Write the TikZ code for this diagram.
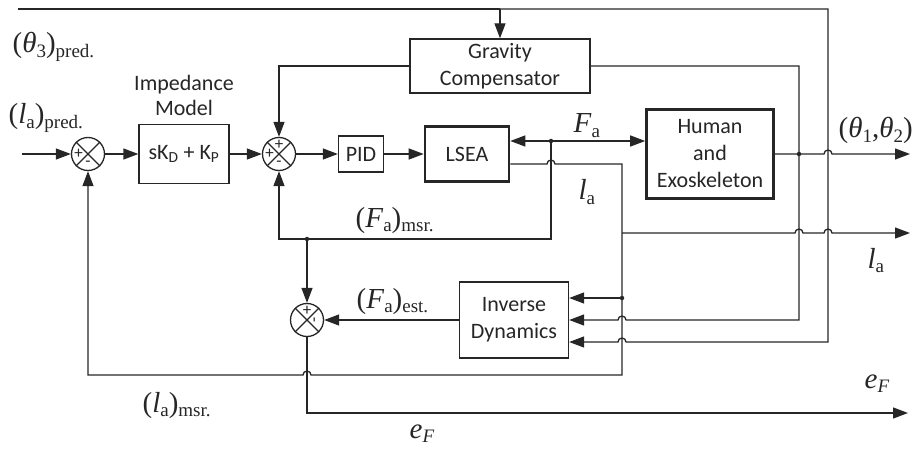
\documentclass[tikz,border=0pt]{standalone}
\usepackage{fontspec}
\setmainfont{Carlito}
\newfontfamily\tms{Liberation Serif}
\usetikzlibrary{arrows.meta}
\definecolor{ink}{HTML}{262626}
\newcommand\lsb[1]{\raisebox{-0.35ex}{\fontsize{19}{19}\selectfont #1}}
\newcommand\mlab[1]{{\tms\fontsize{29}{29}\selectfont #1}}
\begin{document}
\begin{tikzpicture}[x=1pt,y=-1pt,line width=1.3pt,color=ink,
  box/.style={draw, line width=1.3pt, inner sep=0pt, align=center, font=\fontsize{22}{27}\selectfont},
  tbox/.style={box, line width=2.6pt},
  sumc/.style={draw, circle, minimum size=33pt, inner sep=0pt, line width=1.3pt},
  sign/.style={inner sep=0pt, font=\fontsize{17}{17}\selectfont},
  lbl/.style={inner sep=0pt},
  arr/.style={-{Triangle[length=15pt,width=11pt]}},
  arrb/.style={{Triangle[length=15pt,width=11pt]}-{Triangle[length=15pt,width=11pt]}},
  dot/.style={fill, circle, inner sep=0pt, minimum size=4.5pt}]
\useasboundingbox (0,0) rectangle (920,449);

% blocks
\node[sumc] (sum1) at (88,154) {};
\node[sumc] (sum2) at (279,154) {};
\node[sumc] (sum3) at (307,320) {};
\node[box, minimum width=90pt, minimum height=59pt] (imp) at (184,154) {sK\textsubscript{D} + K\textsubscript{P}};
\node[lbl, align=center, font=\fontsize{22}{25}\selectfont] (implbl) at (184,95.5) {Impedance\\Model};
\node[box, minimum width=45pt, minimum height=36pt] (pid) at (361,154) {PID};
\node[tbox, minimum width=84pt, minimum height=55pt] (lsea) at (467,154) {LSEA};
\node[box, minimum width=180pt, minimum height=54pt] (grav) at (500,66) {Gravity\\Compensator};
\node[tbox, minimum width=127pt, minimum height=89pt] (hum) at (710,154) {Human\\and\\Exoskeleton};
\node[box, minimum width=109pt, minimum height=76pt] (invd) at (514,320) {Inverse\\Dynamics};

\foreach \s in {sum1,sum2,sum3}
  \draw (\s.north west) -- (\s.south east) (\s.north east) -- (\s.south west);

% signs
\node[sign] (s1a) at ([xshift=-9.5pt]sum1.center) {+};
\node[sign] (s1b) at ([yshift=-9.5pt]sum1.center) {-};
\node[sign] (s2a) at ([yshift=9.5pt]sum2.center) {+};
\node[sign] (s2b) at ([xshift=-9.5pt]sum2.center) {+};
\node[sign] (s2c) at ([yshift=-9.5pt]sum2.center) {-};
\node[sign] (s3a) at ([yshift=9.5pt]sum3.center) {+};
\node[sign, rotate=90] (s3b) at ([xshift=9.5pt]sum3.center) {-};

% coordinates
\coordinate (th3) at (18,9);
\coordinate (gj) at (500,9);
\coordinate (tr) at (828,9);
\coordinate (lpin) at (22,154);
\coordinate (fd) at (551,141);
\coordinate (fm) at (551,239);
\coordinate (md) at (307,239);
\coordinate (lc) at (622,164);
\coordinate (lb) at (622,375);
\coordinate (lo) at (622,233);
\coordinate (ld) at (622,298);
\coordinate (hd) at (799,154);
\coordinate (gr) at (799,66);
\coordinate (eo) at (307,413);

% top feedback / theta3
\draw (th3) -- (gj);
\draw[arr] (gj) -- (grav.north);
\draw[arr] (gj) -- (tr) -- (828,342) -- (626,342) arc[start angle=0,end angle=180,radius=4pt] -- ([yshift=-22pt]invd.east);

% forward path
\draw[arr] (lpin) -- (sum1.west);
\draw[arr] (sum1.east) -- (imp.west);
\draw[arr] (imp.east) -- (sum2.west);
\draw[arr] (sum2.east) -- (pid.west);
\draw[arr] (pid.east) -- (lsea.west);
\draw[arr] (grav.west) -| (sum2.north);

% F_a
\draw[arrb] ([yshift=13pt]lsea.east) -- ([yshift=13pt]hum.west);
\draw[arr] (fd) -- (fm) -| (sum2.south);
\draw[arr] (md) -- (sum3.north);

% l_a
\draw[arr] ([yshift=-10pt]lsea.east) -- (547,164) arc[start angle=180,end angle=0,radius=4pt] -- (lc) -- (lb) -- (311,375) arc[start angle=0,end angle=180,radius=4pt] -- (88,375) -- (sum1.south);
\draw[arr] (lo) -- (795,233) arc[start angle=180,end angle=0,radius=4pt] -- (824,233) arc[start angle=180,end angle=0,radius=4pt] -- (910,233);
\draw[arr] (ld) -- ([yshift=22pt]invd.east);

% human output
\draw[arr] (hum.east) -- (824,154) arc[start angle=180,end angle=0,radius=4pt] -- (910,154);
\draw[arr] (grav.east) -- (gr) -- (799,320) -- (626,320) arc[start angle=0,end angle=180,radius=4pt] -- (invd.east);

% inverse dynamics output and error
\draw[arr] (invd.west) -- (sum3.east);
\draw[arr] (sum3.south) -- (eo) -- (908,413);

% dots
\foreach \p in {fd,md,ld,hd} \node[dot] at (\p) {};

% labels
\node[lbl, anchor=base west] (lth3) at (12,53) {\mlab{(\textit{θ}\lsb{3})\lsb{pred.}}};
\node[lbl, anchor=base west] (llp) at (8,124) {\mlab{(\textit{l}\lsb{a})\lsb{pred.}}};
\node[lbl, anchor=base west] (lfa) at (573,133) {\mlab{\textit{F}\lsb{a}}};
\node[lbl, anchor=base west] (lla) at (578,200) {\mlab{\textit{l}\lsb{a}}};
\node[lbl, anchor=base west] (lth) at (838,138) {\mlab{(\textit{θ}\lsb{1},\textit{θ}\lsb{2})}};
\node[lbl, anchor=base west] (lfm) at (355,227) {\mlab{(\textit{F}\lsb{a})\lsb{msr.}}};
\node[lbl, anchor=base west] (lfe) at (356,308) {\mlab{(\textit{F}\lsb{a})\lsb{est.}}};
\node[lbl, anchor=base west] (llm) at (142,412) {\mlab{(\textit{l}\lsb{a})\lsb{msr.}}};
\node[lbl, anchor=base west] (lla2) at (867,268) {\mlab{\textit{l}\lsb{a}}};
\node[lbl, anchor=base west] (lef1) at (409,438) {\mlab{\textit{e}\lsb{\textit{F}}}};
\node[lbl, anchor=base west] (lef2) at (864,388) {\mlab{\textit{e}\lsb{\textit{F}}}};
\end{tikzpicture}
\end{document}
